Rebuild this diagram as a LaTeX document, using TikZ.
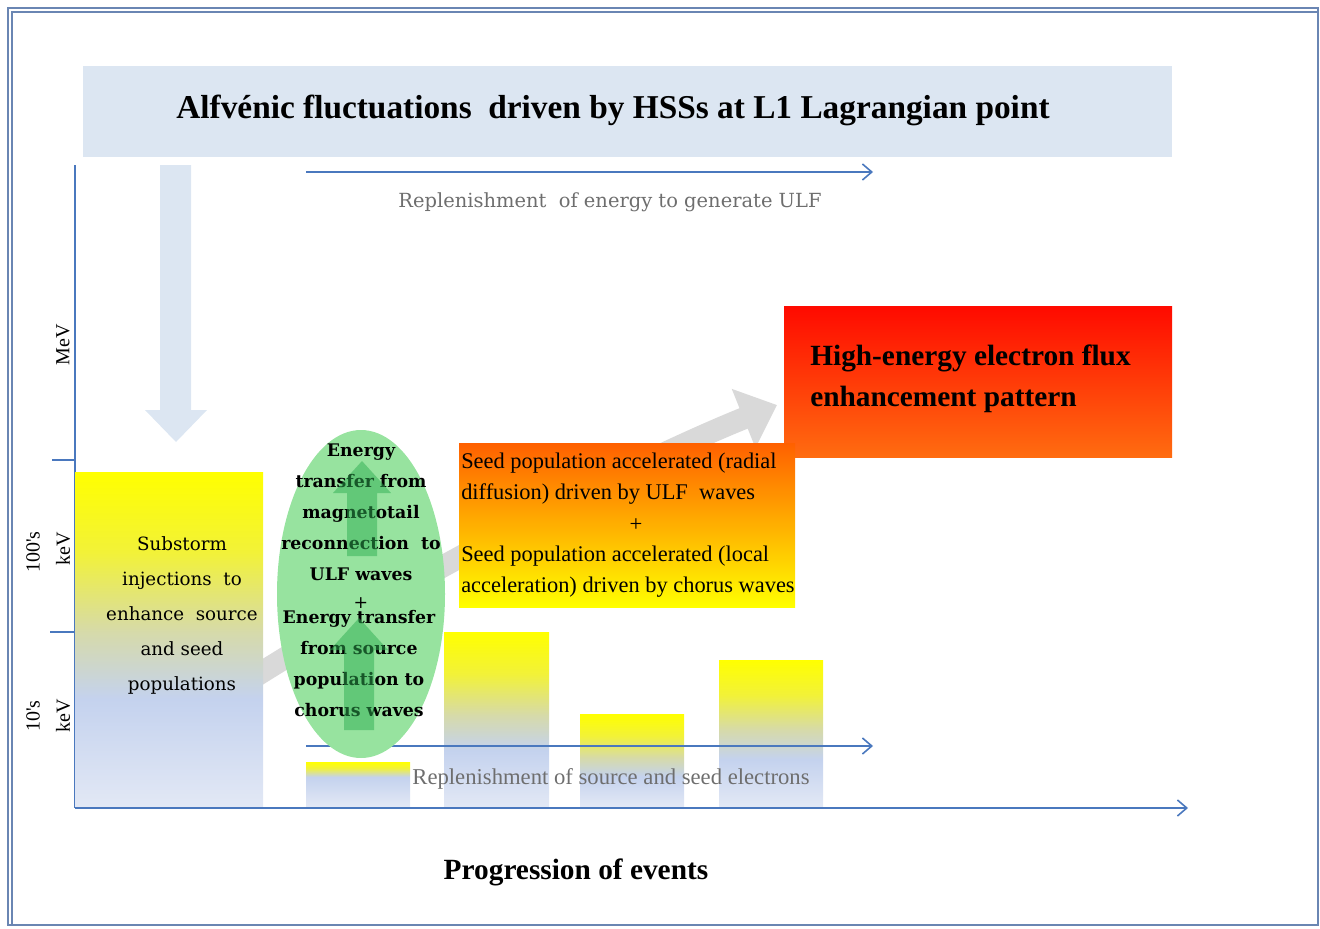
\documentclass[tikz,border=0pt]{standalone}
\usepackage{fontspec}
\newfontfamily\timesfont{Liberation Serif}
\newfontfamily\bookfont{DejaVu Serif}
\usepackage{color}
\usepackage{tikz}
\usetikzlibrary{arrows.meta,shapes.geometric}

\definecolor{framecol}{HTML}{6A86B3}
\definecolor{bandblue}{HTML}{DCE6F2}
\definecolor{axisblue}{HTML}{4A78BE}
\definecolor{arrowgrey}{HTML}{D9D9D9}
\definecolor{barblue}{HTML}{C4D2EE}
\definecolor{barlight}{HTML}{E2E8F5}
\definecolor{bargrey}{HTML}{D6DAAA}
\definecolor{barmix}{HTML}{F2F238}
\definecolor{baryellow}{HTML}{FFFF00}
\definecolor{ellgreen}{HTML}{97E39F}
\definecolor{darkgreen}{HTML}{2FAE52}
\definecolor{fluxred}{HTML}{FF0A00}
\definecolor{fluxorange}{HTML}{FF6C10}
\definecolor{seedorange}{HTML}{FF6000}
\definecolor{seedamber}{HTML}{FFBA00}
\definecolor{textgrey}{HTML}{6E6E6E}

\pgfdeclareverticalshading{barfade}{100bp}{color(0bp)=(barlight); color(25bp)=(barlight); color(41bp)=(barblue); color(51bp)=(bargrey); color(63bp)=(barmix); color(75bp)=(baryellow); color(100bp)=(baryellow)}
\pgfdeclareverticalshading{stubfade}{100bp}{color(0bp)=(barlight); color(25bp)=(barlight); color(58bp)=(barblue); color(68bp)=(barmix); color(75bp)=(baryellow); color(100bp)=(baryellow)}

\begin{document}
\begin{tikzpicture}[x=0.75pt,y=-0.75pt,
	axisline/.style={draw=axisblue, line width=1.2pt},
	flowarrow/.style={axisline, -{Straight Barb[length=7pt,width=12pt]}},
	axislabel/.style={font=\timesfont\fontsize{15}{18}\selectfont, rotate=90, inner sep=0},
	replabel/.style={text=textgrey, inner sep=0},
	ellbold/.style={font=\bookfont\bfseries\fontsize{13}{23.25}\selectfont, align=center, inner sep=0},
	seedtext/.style={font=\timesfont\fontsize{16.8}{23.25}\selectfont, align=left, inner sep=0, anchor=west},
	bar/.style={shading=barfade}]
		\useasboundingbox (0,0) rectangle (1320,928);
		%Frame
		\draw [framecol, line width=1pt] (8,925) -- (8,8) -- (1318,8) -- (1318,925) -- cycle;
		\draw [framecol, line width=0.8pt] (12,925) -- (12,12) -- (1318,12);
		%Title band
		\fill [bandblue] (83,66) rectangle (1172,157);
		\node [font=\timesfont\bfseries\fontsize{25}{30}\selectfont] (title) at (613,110) {Alfv\'enic fluctuations\ \ driven by HSSs at L1 Lagrangian point};
		%Block arrow down from the band
		\fill [bandblue] (160,165) -- (191,165) -- (191,410) -- (207,410) -- (176,442) -- (145,410) -- (160,410) -- cycle;
		%Axes and ticks
		\coordinate (origin) at (75,808);
		\coordinate (ytop) at (75,165);
		\coordinate (xend) at (1188,808);
		\coordinate (tickhigh) at (75,460);
		\coordinate (ticklow) at (75,632);
		\draw [axisline] (ytop) -- (origin);
		\draw [flowarrow] (origin) -- (xend);
		\draw [axisline] (tickhigh) -- ++(-23,0);
		\draw [axisline] (ticklow) -- ++(-25,0);
		\node [axislabel] (mev) at (63,345) {MeV};
		\node [axislabel] (hundreds) at (33,552) {100's};
		\node [axislabel] (kevhigh) at (63,549) {keV};
		\node [axislabel] (tens) at (33,716) {10's};
		\node [axislabel] (kevlow) at (63,716) {keV};
		%Grey progression arrow
		\coordinate (gstart) at (200,712);
		\coordinate (gtip) at (777,405);
		\draw [arrowgrey, line width=16.5pt, -{Triangle[length=27pt,width=46pt]}] (gstart) .. controls (400,580) and (640,460) .. (gtip);
		%Bars
		\shade [bar] (75,472) rectangle (263,806);
		\shade [shading=stubfade] (306,762) rectangle (410,806);
		\shade [bar] (444,632) rectangle (549,806);
		\shade [bar] (580,714) rectangle (684,806);
		\shade [bar] (719,660) rectangle (823,806);
		%Flux box and seed box
		\shade [top color=fluxred, bottom color=fluxorange] (784,306) rectangle (1172,457);
		\shade [top color=seedorange, middle color=seedamber, bottom color=baryellow] (459,443) rectangle (795,607);
		%Replenishment arrows
		\coordinate (topA) at (306,172);
		\coordinate (topB) at (873,172);
		\coordinate (lowA) at (306,746);
		\coordinate (lowB) at (873,746);
		\draw [flowarrow] (topA) -- (topB);
		\node [replabel, font=\bookfont\fontsize{14.6}{18}\selectfont] (topnote) at (610,202) {Replenishment\ \ of energy to generate ULF};
		\draw [flowarrow] (lowA) -- (lowB);
		%Energy transfer ellipse
		\node [ellipse, fill=ellgreen, minimum width=126pt, minimum height=246pt, inner sep=0] (ell) at (361,594) {};
		\node [ellbold] (ulftext) at (361,512) {Energy\\transfer from\\magnetotail\\reconnection\ \ to\\ULF waves};
		\node [ellbold, font=\bookfont\fontsize{13}{14}\selectfont] (plusA) at (361,603) {+};
		\node [ellbold] (chorustext) at (359,664) {Energy transfer\\from source\\population to\\chorus waves};
		\fill [darkgreen, fill opacity=0.5] (347,556) -- (347,493) -- (333,493) -- (362,461) -- (391,493) -- (377,493) -- (377,556) -- cycle;
		\fill [darkgreen, fill opacity=0.5] (344,730) -- (344,650) -- (330,650) -- (359,618) -- (388,650) -- (374,650) -- (374,730) -- cycle;
		%Texts over the bars and boxes
		\node [replabel, font=\timesfont\fontsize{17}{20}\selectfont] (lownote) at (611,779) {Replenishment of source and seed electrons};
		\node [font=\bookfont\fontsize{13.7}{26.25}\selectfont, align=center, inner sep=0] (substorm) at (182,615) {Substorm\\injections\ \ to\\enhance\ \ source\\and seed\\populations};
		\node [seedtext] (radial) at (461,478.5) {Seed population accelerated (radial\\diffusion) driven by ULF\ \ waves};
		\node [font=\timesfont\fontsize{17}{20}\selectfont, inner sep=0] (plusB) at (636,525) {+};
		\node [seedtext] (local) at (461,571.5) {Seed population accelerated (local\\acceleration) driven by chorus waves};
		\node [font=\timesfont\bfseries\fontsize{22}{30.75}\selectfont, align=left, inner sep=0, anchor=west] (flux) at (810,379) {High-energy electron flux\\enhancement pattern};
		%Time axis caption
		\node [font=\timesfont\bfseries\fontsize{22}{26}\selectfont] (progress) at (576,872) {Progression of events};
	\end{tikzpicture}
\end{document}
